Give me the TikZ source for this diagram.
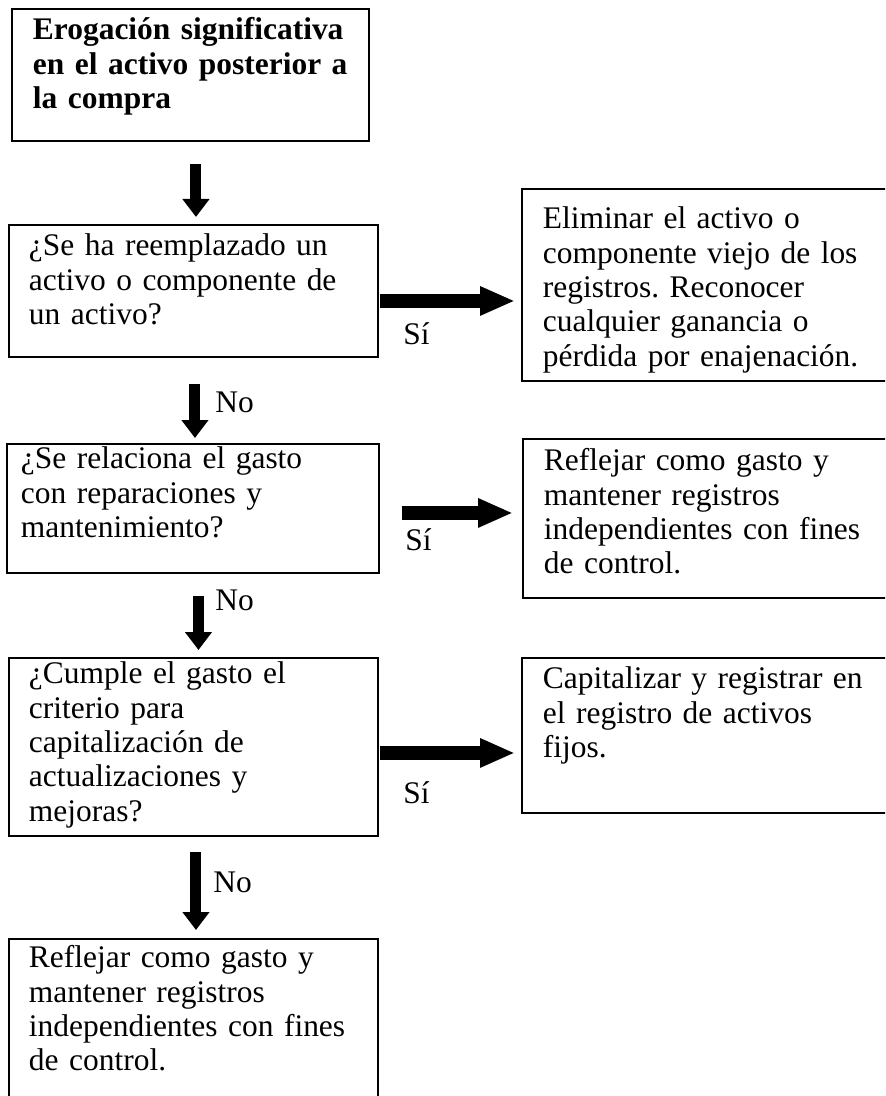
\documentclass[tikz,border=0pt]{standalone}
\usepackage{fontspec}
\setmainfont{Liberation Serif}
\usetikzlibrary{arrows.meta}
\newcommand{\boxfont}{\fontsize{17.9}{19.5}\selectfont\frenchspacing}

\begin{document}
\begin{tikzpicture}[
    block/.style={rectangle, draw, line width=1.1pt, anchor=north west, align=left, inner ysep=0pt, font=\boxfont},
    lbl/.style={anchor=base west, inner sep=0pt, font=\boxfont},
    vline/.style={draw, line width=0.22cm, -{Triangle[length=0.36cm, width=0.52cm]}},
    hline/.style={draw, line width=0.27cm, -{Triangle[length=0.70cm, width=0.54cm]}}]

    \useasboundingbox (0,0) rectangle (17.7,-21.92);
    \clip (0,0) rectangle (17.7,-21.92);

    \node [block, inner xsep=0.42cm, text width=6.30cm, text height=0.62cm, text depth=2.02cm, font=\boxfont\bfseries] (title) at (0.22,-0.16)
        {Erogación significativa\\en el activo posterior a\\la compra};
    \node [block, inner xsep=0.40cm, text width=6.58cm, text height=0.62cm, text depth=2.02cm] (replaced) at (0.16,-4.48)
        {¿Se ha reemplazado un\\activo o componente de\\un activo?};
    \node [block, inner xsep=0.42cm, text width=7.16cm, text height=0.80cm, text depth=3.04cm] (oldout) at (10.42,-3.76)
        {Eliminar el activo o\\componente viejo de los\\registros. Reconocer\\cualquier ganancia o\\pérdida por enajenación.};
    \node [block, inner xsep=0.28cm, text width=6.88cm, text height=0.50cm, text depth=2.08cm] (repairs) at (0.12,-8.86)
        {¿Se relaciona el gasto\\con reparaciones y\\mantenimiento?};
    \node [block, inner xsep=0.42cm, text width=7.16cm, text height=0.64cm, text depth=2.54cm] (expense) at (10.44,-8.76)
        {Reflejar como gasto y\\mantener registros\\independientes con fines\\de control.};
    \node [block, inner xsep=0.40cm, text width=6.58cm, text height=0.52cm, text depth=3.04cm] (upgrade) at (0.16,-13.14)
        {¿Cumple el gasto el\\criterio para\\capitalización de\\actualizaciones y\\mejoras?};
    \node [block, inner xsep=0.42cm, text width=7.16cm, text height=0.62cm, text depth=2.48cm] (capital) at (10.42,-13.14)
        {Capitalizar y registrar en\\el registro de activos\\fijos.};
    \node [block, inner xsep=0.40cm, text width=6.58cm, text height=0.58cm, text depth=3.42cm] (expensetwo) at (0.16,-18.76)
        {Reflejar como gasto y\\mantener registros\\independientes con fines\\de control.};

    \node [lbl] (no1) at (4.30,-8.26) {No};
    \node [lbl] (no2) at (4.30,-12.20) {No};
    \node [lbl] (no3) at (4.26,-17.84) {No};
    \node [lbl] (si1) at (8.06,-6.90) {Sí};
    \node [lbl] (si2) at (8.10,-11.00) {Sí};
    \node [lbl] (si3) at (8.06,-16.06) {Sí};

    \path [vline, shorten <=0.44cm, shorten >=0.14cm] ([xshift=0.11cm]title.south) -- ([xshift=0.11cm]title.south |- replaced.north);
    \path [vline, shorten <=0.52cm, shorten >=0.10cm] ([xshift=0.03cm]replaced.south) -- ([xshift=0.03cm]replaced.south |- repairs.north);
    \path [vline, shorten <=0.44cm, shorten >=0.14cm] ([xshift=0.11cm]repairs.south) -- ([xshift=0.11cm]repairs.south |- upgrade.north);
    \path [vline, shorten <=0.30cm, shorten >=0.16cm] ([xshift=0.05cm]upgrade.south) -- ([xshift=0.05cm]upgrade.south |- expensetwo.north);

    \path [hline, shorten <=0.02cm, shorten >=0.12cm] ([yshift=-0.20cm]replaced.east) -- ([yshift=-0.20cm]replaced.east -| oldout.west);
    \path [hline, shorten <=0.44cm, shorten >=0.18cm] ([yshift=-0.09cm]repairs.east) -- ([yshift=-0.09cm]repairs.east -| expense.west);
    \path [hline, shorten <=0.02cm, shorten >=0.12cm] ([yshift=-0.12cm]upgrade.east) -- ([yshift=-0.12cm]upgrade.east -| capital.west);
\end{tikzpicture}
\end{document}
